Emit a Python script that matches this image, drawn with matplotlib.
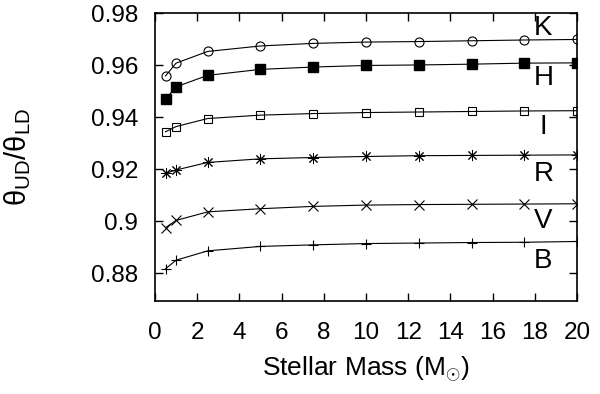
import matplotlib

matplotlib.use("Agg")
import matplotlib.pyplot as plt

plt.rcParams["font.family"] = ["Liberation Sans", "DejaVu Sans"]
plt.rcParams["mathtext.fontset"] = "custom"
plt.rcParams["mathtext.rm"] = "Liberation Sans"
plt.rcParams["mathtext.it"] = "Liberation Sans"

# stellar mass (solar masses)
mass = [0.5, 1.0, 2.5, 5.0, 7.5, 10.0, 12.5, 15.0, 17.5, 20.0]

# theta_UD / theta_LD per band
ratio_k = [0.9560, 0.9609, 0.9654, 0.9675, 0.9685, 0.9690, 0.9692, 0.9695, 0.9698, 0.9700]
ratio_h = [0.9471, 0.9518, 0.9562, 0.9585, 0.9594, 0.9600, 0.9602, 0.9605, 0.9609, 0.9610]
ratio_i = [0.9345, 0.9365, 0.9396, 0.9409, 0.9415, 0.9419, 0.9421, 0.9423, 0.9425, 0.9426]
ratio_r = [0.9185, 0.9198, 0.9227, 0.9241, 0.9246, 0.9250, 0.9253, 0.9254, 0.9255, 0.9256]
ratio_v = [0.8976, 0.9004, 0.9037, 0.9049, 0.9058, 0.9063, 0.9065, 0.9066, 0.9067, 0.9068]
ratio_b = [0.8818, 0.8851, 0.8887, 0.8904, 0.8910, 0.8915, 0.8917, 0.8919, 0.8920, 0.8923]

band_names = ["K", "H", "I", "R", "V", "B"]
label_x = 18.4
label_y = [0.9745, 0.9553, 0.9362, 0.9183, 0.9003, 0.8849]

fig = plt.figure(figsize=(6.0, 3.94), dpi=100)
ax = fig.add_axes([0.2583, 0.236, 0.7034, 0.7298])

line_kw = dict(color="black", linewidth=0.8)
ax.plot(mass, ratio_k, marker="o", markersize=6.5, markerfacecolor="none",
        markeredgecolor="black", markeredgewidth=0.8, **line_kw)
ax.plot(mass, ratio_h, marker="s", markersize=6.5, markerfacecolor="black",
        markeredgecolor="black", **line_kw)
ax.plot(mass, ratio_i, marker="s", markersize=6, markerfacecolor="none",
        markeredgecolor="black", markeredgewidth=0.8, **line_kw)
ax.plot(mass, ratio_r, marker=(8, 2, 0), markersize=8,
        markeredgecolor="black", markeredgewidth=0.7, **line_kw)
ax.plot(mass, ratio_v, marker="x", markersize=7,
        markeredgecolor="black", markeredgewidth=0.8, **line_kw)
ax.plot(mass, ratio_b, marker="+", markersize=7,
        markeredgecolor="black", markeredgewidth=0.8, **line_kw)

for name, y in zip(band_names, label_y):
    ax.text(label_x, y, name, fontsize=20, ha="center", va="center")

ax.set_xlim(0, 20)
ax.set_ylim(0.8694, 0.98)
ax.set_xticks(range(0, 21, 2))
ax.set_yticks([0.88, 0.90, 0.92, 0.94, 0.96, 0.98])
ax.set_yticklabels(["0.88", "0.9", "0.92", "0.94", "0.96", "0.98"])
ax.tick_params(direction="in", length=6, width=1, top=True, right=True,
               labelsize=17.5)
ax.tick_params(axis="x", pad=15)
ax.tick_params(axis="y", pad=12)

for side in ["top", "bottom", "left", "right"]:
    ax.spines[side].set_linewidth(1.2)

ax.set_xlabel(r"Stellar Mass (M$_{\odot}$)", fontsize=19, labelpad=8)
ax.set_ylabel(r"θ$_{\mathrm{UD}}$/θ$_{\mathrm{LD}}$", fontsize=21)
ax.yaxis.set_label_coords(-0.29, 0.5)

fig.savefig("out.png", dpi=100)
